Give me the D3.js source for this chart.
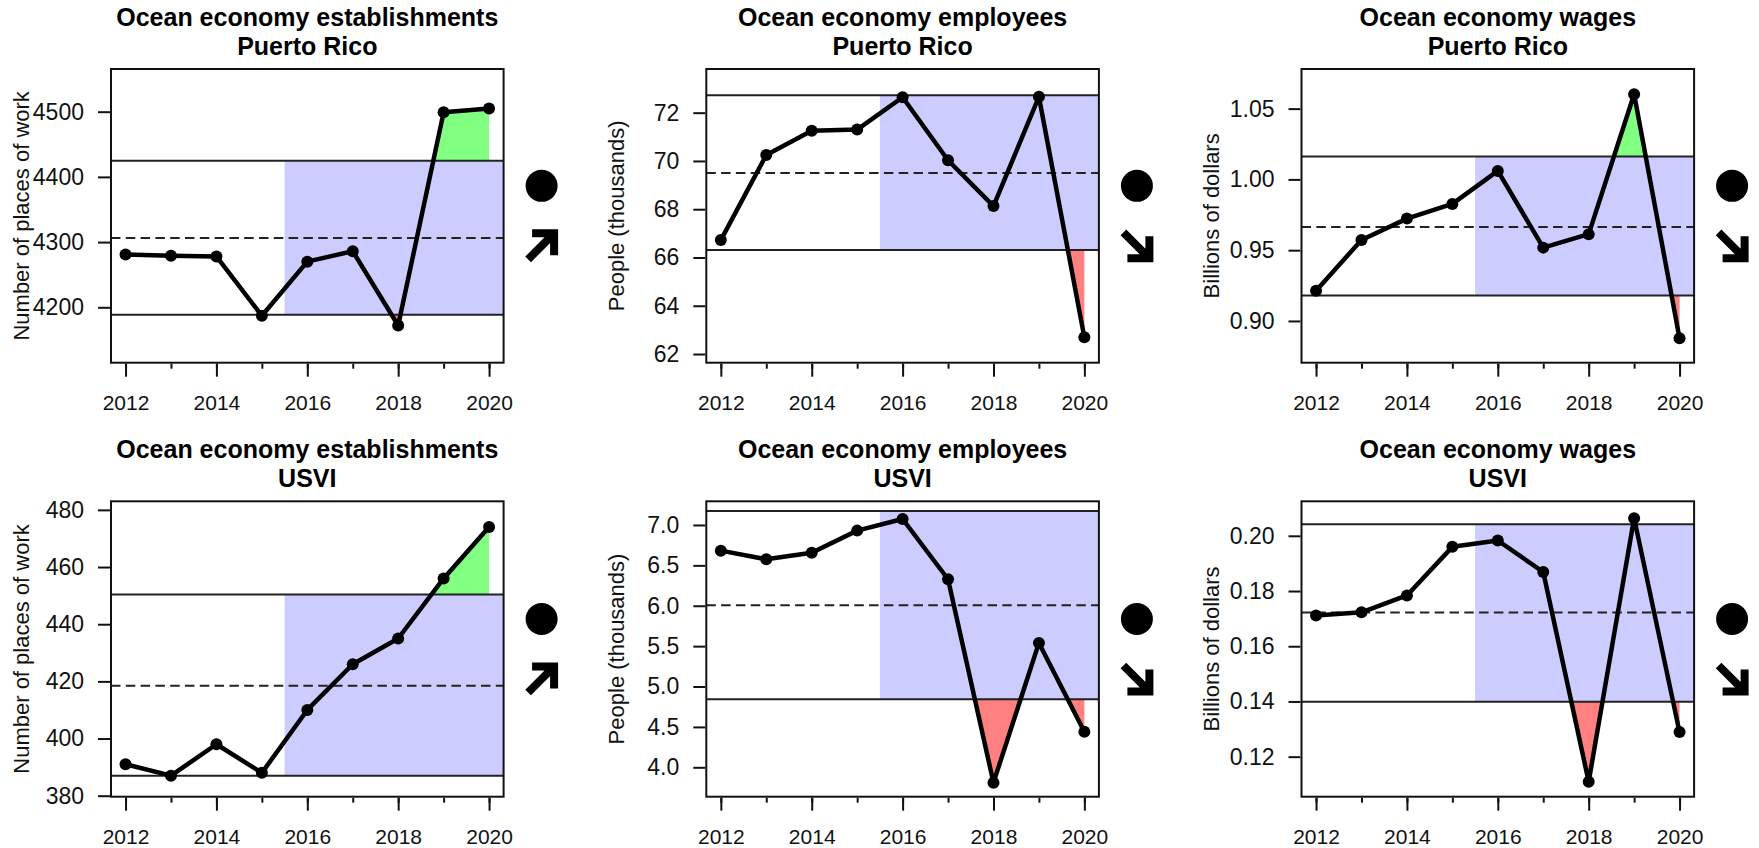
<!DOCTYPE html>
<html>
<head>
<meta charset="utf-8">
<script src="https://cdn.jsdelivr.net/npm/d3@7"></script>
<style>
  body { margin: 0; background: #fff; }
  svg { display: block; font-family: "Liberation Sans", Arial, sans-serif; }
</style>
</head>
<body>
<svg id="chart" width="1759" height="848"></svg>
<script>
// Data
const years = [2012, 2013, 2014, 2015, 2016, 2017, 2018, 2019, 2020];
const metrics = ["Ocean economy establishments", "Ocean economy employees", "Ocean economy wages"];
const regions = ["Puerto Rico", "USVI"];
const yTitles = ["Number of places of work", "People (thousands)", "Billions of dollars"];

const estPR = [4281, 4279, 4278, 4187, 4270, 4286, 4172, 4499, 4505];
const empPR = [66.72, 70.25, 71.25, 71.30, 72.64, 70.03, 68.13, 72.66, 62.69];
const wagePR = [0.9214, 0.9572, 0.9723, 0.9827, 1.0060, 0.9518, 0.9613, 1.0602, 0.8877];
const estVI = [391, 387, 398, 388, 410, 426, 435, 456, 474];
const empVI = [6.682, 6.575, 6.657, 6.930, 7.074, 6.328, 3.810, 5.540, 4.440];
const wageVI = [0.1711, 0.1723, 0.1784, 0.1960, 0.1983, 0.1869, 0.1109, 0.2064, 0.1289];

// mean, mean + sd, mean - sd per panel (row = region)
const means = [[4306.3, 69.50, 0.9664], [418.5, 6.006, 0.1722]];
const uppers = [[4424.8, 72.72, 1.0161], [450.35, 7.173, 0.2042]];
const lowers = [[4188.7, 66.31, 0.9179], [387.0, 4.842, 0.1399]];
const trends = [["up", "down", "down"], ["up", "down", "down"]];

const yRanges = [[[4115, 4565.5], [61.64, 73.81], [0.8705, 1.0780]],
                 [[379.65, 483.0], [3.636, 7.293], [0.1055, 0.2125]]];
const yTickValues = [[[4200, 4300, 4400, 4500], [62, 64, 66, 68, 70, 72], [0.90, 0.95, 1.00, 1.05]],
                     [[380, 400, 420, 440, 460, 480], [4.0, 4.5, 5.0, 5.5, 6.0, 6.5, 7.0], [0.12, 0.14, 0.16, 0.18, 0.20]]];
const yFormats = [["d", "d", ".2f"], ["d", ".1f", ".2f"]];
const xLabelYears = [2012, 2014, 2016, 2018, 2020];
const recentStart = 2015.5;

const series = [[estPR, empPR, wagePR], [estVI, empVI, wageVI]];

// Layout
const boxLeft = [111, 706.3, 1301.5];
const boxWidth = 392.6;
const boxTop = [69, 501.3];
const boxHeight = [293.7, 295.4];

const svg = d3.select("#chart");
const defs = svg.append("defs");

regions.forEach((region, r) => {
  metrics.forEach((metric, c) => {
    const values = series[r][c];
    const data = years.map((y, i) => ({ year: y, value: values[i] }));
    const w = boxWidth, h = boxHeight[r];
    const id = `p${r}${c}`;

    const x = d3.scaleLinear().domain([2011.68, 2020.32]).range([0, w]);
    const y = d3.scaleLinear().domain(yRanges[r][c]).range([h, 0]);

    const g = svg.append("g")
      .attr("transform", `translate(${boxLeft[c]},${boxTop[r]})`);

    // clip regions for exceedance fills
    defs.append("clipPath").attr("id", `${id}-above`)
      .append("rect")
      .attr("x", x(recentStart)).attr("y", 0)
      .attr("width", w - x(recentStart))
      .attr("height", y(uppers[r][c]));
    defs.append("clipPath").attr("id", `${id}-below`)
      .append("rect")
      .attr("x", x(recentStart)).attr("y", y(lowers[r][c]))
      .attr("width", w - x(recentStart))
      .attr("height", h - y(lowers[r][c]));

    // recent-years band
    g.append("rect")
      .attr("x", x(recentStart))
      .attr("y", y(uppers[r][c]))
      .attr("width", w - x(recentStart))
      .attr("height", y(lowers[r][c]) - y(uppers[r][c]))
      .attr("fill", "#ccccff");

    g.append("path")
      .datum(data)
      .attr("clip-path", `url(#${id}-above)`)
      .attr("fill", "#80ff80")
      .attr("d", d3.area().x(d => x(d.year)).y0(y(uppers[r][c])).y1(d => y(d.value)));

    g.append("path")
      .datum(data)
      .attr("clip-path", `url(#${id}-below)`)
      .attr("fill", "#ff8080")
      .attr("d", d3.area().x(d => x(d.year)).y0(y(lowers[r][c])).y1(d => y(d.value)));

    // sd lines and mean
    [uppers[r][c], lowers[r][c]].forEach(v => {
      g.append("line")
        .attr("x1", 0).attr("x2", w)
        .attr("y1", y(v)).attr("y2", y(v))
        .attr("stroke", "#222").attr("stroke-width", 2);
    });
    g.append("line")
      .attr("x1", 0).attr("x2", w)
      .attr("y1", y(means[r][c])).attr("y2", y(means[r][c]))
      .attr("stroke", "#222").attr("stroke-width", 2)
      .attr("stroke-dasharray", "9.5,5.3");

    g.append("path")
      .datum(data)
      .attr("fill", "none")
      .attr("stroke", "#000")
      .attr("stroke-width", 4.5)
      .attr("stroke-linejoin", "round")
      .attr("d", d3.line().x(d => x(d.year)).y(d => y(d.value)));

    g.selectAll("circle.pt")
      .data(data)
      .join("circle")
      .attr("class", "pt")
      .attr("cx", d => x(d.year))
      .attr("cy", d => y(d.value))
      .attr("r", 6)
      .attr("fill", "#000");

    g.append("rect")
      .attr("width", w).attr("height", h)
      .attr("fill", "none")
      .attr("stroke", "#111").attr("stroke-width", 2);

    // axes
    const xMinor = g.append("g")
      .attr("transform", `translate(0,${h + 1})`)
      .call(d3.axisBottom(x).tickValues(years).tickSize(5).tickFormat(""));
    const xMajor = g.append("g")
      .attr("transform", `translate(0,${h + 1})`)
      .call(d3.axisBottom(x).tickValues(xLabelYears).tickSize(13).tickPadding(18).tickFormat(d3.format("d")));
    const yAxis = g.append("g")
      .attr("transform", "translate(-1,0)")
      .call(d3.axisLeft(y).tickValues(yTickValues[r][c]).tickSize(12).tickPadding(14)
        .tickFormat(d3.format(yFormats[r][c])));

    [xMinor, xMajor, yAxis].forEach(a => {
      a.select(".domain").remove();
      a.selectAll(".tick line").attr("stroke", "#111").attr("stroke-width", 2);
      a.selectAll("text")
        .attr("fill", "#111")
        .style("font-size", "21px")
        .style("font-family", "'Liberation Sans', Arial, sans-serif");
    });
    yAxis.selectAll("text").style("font-size", "23px");

    g.append("text")
      .attr("transform", `translate(-90,${h / 2}) rotate(-90)`)
      .attr("text-anchor", "middle")
      .attr("dominant-baseline", "central")
      .attr("fill", "#111")
      .style("font-size", "22px")
      .text(yTitles[c]);

    // titles
    const title = g.append("text")
      .attr("text-anchor", "middle")
      .attr("fill", "#000")
      .style("font-size", "25px")
      .style("font-weight", "bold");
    title.append("tspan").attr("x", w / 2).attr("y", -43.5).text(metric);
    title.append("tspan").attr("x", w / 2).attr("y", -14.5).text(region);

    // status symbols in the right margin
    const sx = w + 38, sy = h / 2;
    g.append("circle")
      .attr("cx", sx).attr("cy", sy - 30)
      .attr("r", 16)
      .attr("fill", "#000");

    const up = trends[r][c] === "up";
    const t = 12.5, tail = 13.5, arm = 22;
    const ay = sy + 30;
    const tip = [sx + t, up ? ay - t : ay + t];
    const start = [sx - tail, up ? ay + tail : ay - tail];
    const head = up
      ? [[tip[0] - arm, tip[1]], tip, [tip[0], tip[1] + arm]]
      : [[tip[0] - arm, tip[1]], tip, [tip[0], tip[1] - arm]];
    g.append("path")
      .attr("d", d3.line()([start, tip]) + d3.line()(head))
      .attr("fill", "none")
      .attr("stroke", "#000")
      .attr("stroke-width", 8)
      .attr("stroke-linejoin", "miter");
  });
});
</script>
</body>
</html>
